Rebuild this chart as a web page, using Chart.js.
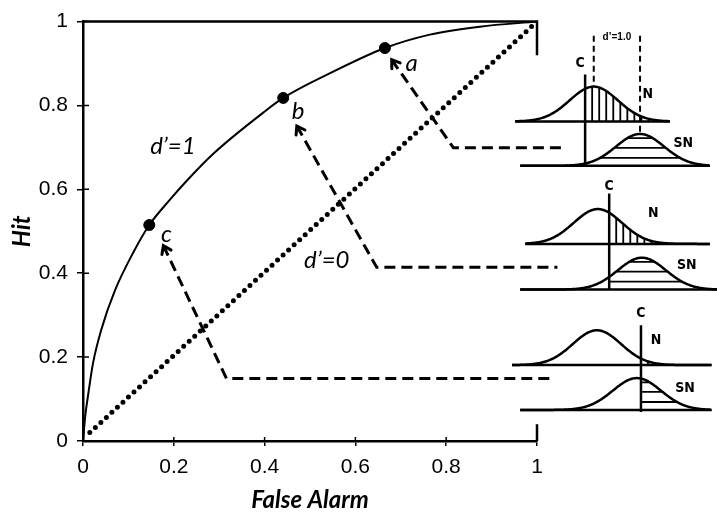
<!DOCTYPE html>
<html>
<head>
<meta charset="utf-8">
<script src="https://cdn.jsdelivr.net/npm/chart.js@4.4.0/dist/chart.umd.min.js"></script>
<style>
  html, body { margin: 0; background: #fff; }
  #wrap { width: 717px; height: 514px; }
</style>
</head>
<body>
<div id="wrap"><canvas id="rocChart"></canvas></div>
<script>
// ROC curve for d'=1
var falseAlarm = [0, 0.005, 0.012, 0.022, 0.041, 0.07, 0.111, 0.146, 0.192, 0.228, 0.287, 0.397, 0.441, 0.55, 0.665, 0.764, 0.874, 1];
var hitRate    = [0, 0.06, 0.115, 0.185, 0.268, 0.358, 0.45, 0.515, 0.576, 0.62, 0.685, 0.783, 0.818, 0.88, 0.937, 0.969, 0.988, 1];

// the three criterion points on the curve
var pointNames = ['a', 'b', 'c'];
var pointFA    = [0.665, 0.441, 0.146];
var pointHit   = [0.937, 0.818, 0.515];

// chance line d'=0
var chanceFA  = [0.015, 0.99];
var chanceHit = [0.02, 0.99];

// dashed leaders: tip -> corner -> out to the diagrams
var leaderA = { x: [0.68, 0.816, 1.06], y: [0.909, 0.699, 0.699] };
var leaderB = { x: [0.471, 0.647, 1.045], y: [0.751, 0.414, 0.414] };
var leaderC = { x: [0.177, 0.316, 1.035], y: [0.466, 0.149, 0.149] };

var xTickLabels = [0, 0.2, 0.4, 0.6, 0.8, 1];
var yTickLabels = [0, 0.2, 0.4, 0.6, 0.8, 1];

// signal detection sketches on the right (N / SN distributions), in axis units
var sketch = [
  { nBase: 0.762, snBase: 0.656, nMean: 1.125, snMean: 1.227, crit: 1.106, critTop: 0.874, critBot: 0.656,
    nFrom: 0.952, nTo: 1.293, snFrom: 0.963, snTo: 1.381, nLbl: [1.244, 0.827], snLbl: [1.322, 0.71], cLbl: [1.095, 0.9] },
  { nBase: 0.47, snBase: 0.361, nMean: 1.134, snMean: 1.231, crit: 1.159, critTop: 0.59, critBot: 0.361,
    nFrom: 0.974, nTo: 1.381, snFrom: 0.963, snTo: 1.4, nLbl: [1.256, 0.542], snLbl: [1.33, 0.418], cLbl: [1.159, 0.608] },
  { nBase: 0.181, snBase: 0.074, nMean: 1.132, snMean: 1.22, crit: 1.229, critTop: 0.276, critBot: 0.069,
    nFrom: 0.945, nTo: 1.385, snFrom: 0.963, snTo: 1.385, nLbl: [1.262, 0.24], snLbl: [1.326, 0.126], cLbl: [1.229, 0.304] }
];
var sdX = 0.053, peakN = 0.083, peakSN = 0.076;
var snLevels = [0.019, 0.043, 0.066];

function pts(xs, ys) {
  return xs.map(function (x, i) { return { x: x, y: ys[i] }; });
}

var tickFont = { family: '"Liberation Sans", Arial, sans-serif', size: 21 };
var titleFont = { family: 'Lato, "Open Sans", sans-serif', size: 24, weight: 'bold', style: 'italic', lineHeight: 1 };
var tickText = function (v) { return String(+(+v).toFixed(1)); };

var extras = {
  id: 'extras',
  afterDraw: function (chart) {
    var ctx = chart.ctx, xs = chart.scales.x, ys = chart.scales.y;
    var px = function (v) { return xs.getPixelForValue(v); };
    var py = function (v) { return ys.getPixelForValue(v); };
    ctx.save();
    ctx.strokeStyle = '#000';
    ctx.fillStyle = '#000';

    // top frame and the visible bits of the right frame
    ctx.lineWidth = 2.5;
    ctx.beginPath();
    ctx.moveTo(px(0), py(1)); ctx.lineTo(px(1), py(1)); ctx.lineTo(px(1), py(0.92));
    ctx.moveTo(px(1), py(0.04)); ctx.lineTo(px(1), py(0));
    ctx.stroke();

    // inner half of the tick marks
    ctx.lineWidth = 1.5;
    ctx.beginPath();
    xTickLabels.forEach(function (v) { ctx.moveTo(px(v), py(0)); ctx.lineTo(px(v), py(0) - 4); });
    yTickLabels.forEach(function (v) { ctx.moveTo(px(0), py(v)); ctx.lineTo(px(0) + 6, py(v)); });
    ctx.stroke();

    // arrow heads on the leaders
    ctx.lineWidth = 3;
    ctx.lineCap = 'round';
    [leaderA, leaderB, leaderC].forEach(function (l) {
      var tx = px(l.x[0]), ty = py(l.y[0]);
      var ang = Math.atan2(py(l.y[1]) - ty, px(l.x[1]) - tx);
      var len = 9;
      ctx.beginPath();
      ctx.moveTo(tx + len * Math.cos(ang - 0.6), ty + len * Math.sin(ang - 0.6));
      ctx.lineTo(tx, ty);
      ctx.lineTo(tx + len * Math.cos(ang + 0.6), ty + len * Math.sin(ang + 0.6));
      ctx.stroke();
    });

    // annotations
    ctx.font = 'italic 24px Lato, "Open Sans", sans-serif';
    ctx.textAlign = 'center';
    ctx.textBaseline = 'middle';
    ctx.fillText('d\u2019=1', px(0.198), py(0.702));
    ctx.fillText('d\u2019=0', px(0.537), py(0.432));
    var nameAt = [[0.724, 0.901], [0.474, 0.786], [0.184, 0.493]];
    pointNames.forEach(function (n, i) { ctx.fillText(n, px(nameAt[i][0]), py(nameAt[i][1])); });

    // N / SN sketches
    var g = function (x, m, h) { return h * Math.exp(-0.5 * Math.pow((x - m) / sdX, 2)); };
    ctx.lineWidth = 2.5;
    ctx.lineCap = 'butt';
    sketch.forEach(function (p) {
      // baselines
      ctx.beginPath();
      ctx.moveTo(px(p.nFrom), py(p.nBase)); ctx.lineTo(px(p.nTo), py(p.nBase));
      ctx.moveTo(px(p.snFrom), py(p.snBase)); ctx.lineTo(px(p.snTo), py(p.snBase));
      ctx.stroke();
      // curves
      [[p.nMean, p.nBase, peakN, p.nFrom, p.nTo], [p.snMean, p.snBase, peakSN, p.snFrom, p.snTo]].forEach(function (c) {
        ctx.beginPath();
        for (var x = c[3]; x <= c[4]; x += 0.002) {
          var yy = py(c[1] + g(x, c[0], c[2]));
          if (x === c[3]) ctx.moveTo(px(x), yy); else ctx.lineTo(px(x), yy);
        }
        ctx.stroke();
      });
      // criterion line
      ctx.beginPath();
      ctx.moveTo(px(p.crit), py(p.critTop)); ctx.lineTo(px(p.crit), py(p.critBot));
      ctx.stroke();
      // vertical hatching under N, right of C
      ctx.lineWidth = 1.8;
      ctx.beginPath();
      for (var hx = p.crit + 0.0155; hx < p.nMean + 3 * sdX; hx += 0.0155) {
        var hh = g(hx, p.nMean, peakN);
        if (hh < 0.006) continue;
        ctx.moveTo(px(hx), py(p.nBase)); ctx.lineTo(px(hx), py(p.nBase + hh));
      }
      // horizontal hatching under SN, right of C
      snLevels.forEach(function (lv) {
        if (lv >= peakSN) return;
        var dx = sdX * Math.sqrt(-2 * Math.log(lv / peakSN));
        var x0 = Math.max(p.crit, p.snMean - dx), x1 = p.snMean + dx;
        if (x1 <= x0) return;
        ctx.moveTo(px(x0), py(p.snBase + lv)); ctx.lineTo(px(x1), py(p.snBase + lv));
      });
      ctx.stroke();
      ctx.lineWidth = 2.5;
      // labels
      ctx.font = 'bold 14px "Liberation Sans Narrow", "DejaVu Sans Condensed", sans-serif';
      ctx.fillText('N', px(p.nLbl[0]), py(p.nLbl[1]));
      ctx.fillText('SN', px(p.snLbl[0]), py(p.snLbl[1]));
      ctx.fillText('C', px(p.cLbl[0]), py(p.cLbl[1]));
    });

    // d'=1.0 bracket on the top sketch
    var s0 = sketch[0];
    ctx.lineWidth = 2;
    ctx.setLineDash([6, 4]);
    ctx.beginPath();
    ctx.moveTo(px(s0.nMean), py(0.966)); ctx.lineTo(px(s0.nMean), py(s0.nBase + peakN));
    ctx.moveTo(px(s0.snMean), py(0.966)); ctx.lineTo(px(s0.snMean), py(s0.snBase + peakSN));
    ctx.stroke();
    ctx.setLineDash([]);
    ctx.font = 'bold 10px "Liberation Sans Narrow", sans-serif';
    ctx.fillText('d\u2019=1.0', px((s0.nMean + s0.snMean) / 2), py(0.962));
    ctx.restore();
  }
};

function leader(l) {
  return {
    data: pts(l.x, l.y), borderColor: '#000', borderWidth: 3, borderDash: [11, 6],
    pointRadius: 0, tension: 0, clip: false, order: 3
  };
}

new Chart(document.getElementById('rocChart'), {
  type: 'line',
  data: {
    datasets: [
      { data: pts(falseAlarm, hitRate), borderColor: '#000', borderWidth: 2, pointRadius: 0,
        cubicInterpolationMode: 'monotone', order: 1 },
      { data: pts(pointFA, pointHit), showLine: false, pointRadius: 5.5, pointBackgroundColor: '#000',
        pointBorderColor: '#000', order: 0 },
      { data: pts(chanceFA, chanceHit), borderColor: '#000', borderWidth: 5, borderDash: [0, 7.5],
        borderCapStyle: 'round', pointRadius: 0, order: 2 },
      leader(leaderA), leader(leaderB), leader(leaderC)
    ]
  },
  options: {
    responsive: true,
    maintainAspectRatio: false,
    animation: false,
    layout: { padding: { left: 0, right: 180, top: 20, bottom: 0 } },
    plugins: { legend: { display: false }, tooltip: { enabled: false } },
    scales: {
      x: {
        type: 'linear', min: 0, max: 1,
        afterFit: function (s) { s.height = 73; },
        ticks: { stepSize: 0.2, font: tickFont, color: '#000', padding: 9, maxRotation: 0, callback: tickText },
        grid: { drawOnChartArea: false, color: '#000', lineWidth: 1.5, tickLength: 5 },
        border: { color: '#000', width: 2.5 },
        title: { display: true, text: 'False Alarm', font: titleFont, color: '#000', padding: { top: 0, bottom: 2 } }
      },
      y: {
        type: 'linear', min: 0, max: 1,
        afterFit: function (s) { s.width = 83; },
        ticks: { stepSize: 0.2, font: tickFont, color: '#000', padding: 9, callback: tickText },
        grid: { drawOnChartArea: false, color: '#000', lineWidth: 1.5, tickLength: 6 },
        border: { color: '#000', width: 2.5 },
        title: { display: true, text: 'Hit', font: titleFont, color: '#000', padding: { top: 10, bottom: 0 } }
      }
    }
  },
  plugins: [extras]
});
</script>
</body>
</html>
